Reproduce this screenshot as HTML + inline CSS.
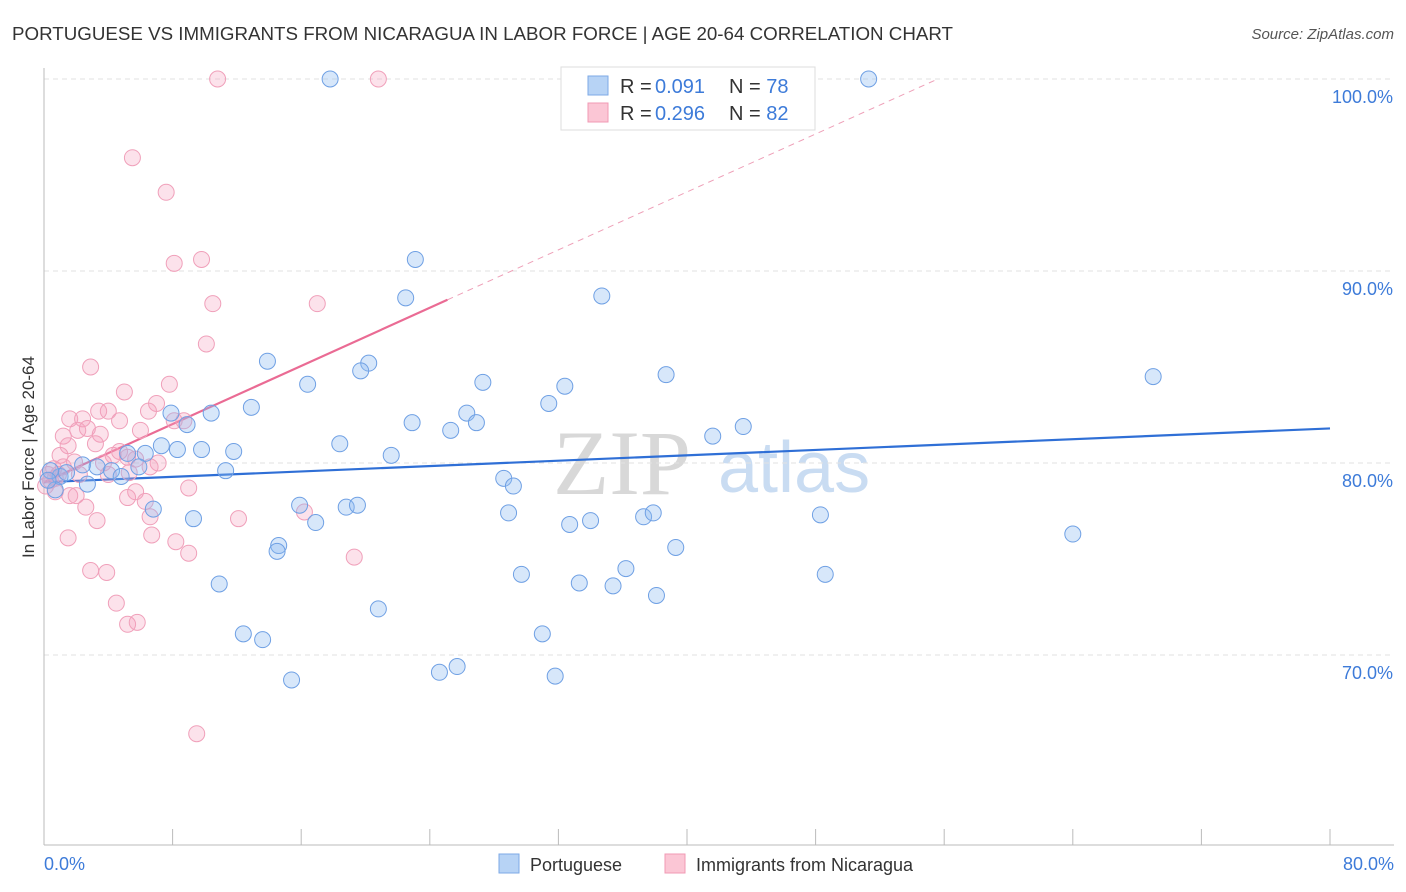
<!DOCTYPE html>
<html><head><meta charset="utf-8"><style>
body{margin:0;background:#fff;font-family:"Liberation Sans",sans-serif;}
svg{display:block}
</style></head><body>
<svg id="chart" width="1406" height="892">
<text x="12" y="40" font-size="18" fill="#333" textLength="941" lengthAdjust="spacingAndGlyphs">PORTUGUESE VS IMMIGRANTS FROM NICARAGUA IN LABOR FORCE | AGE 20-64 CORRELATION CHART</text>
<text x="1394" y="39" font-size="15" fill="#555" font-style="italic" text-anchor="end">Source: ZipAtlas.com</text>
<g>
<text x="553" y="494" font-size="92" fill="#d8d8d8" font-family="Liberation Serif,serif">ZIP</text>
<text x="718" y="492" font-size="72" fill="#c9dcf2">atlas</text>
</g>
<g id="grid"></g>
<g id="axes"></g>
<g id="trends"></g>
<g id="points"></g>
<text transform="translate(34,457) rotate(-90)" font-size="17" fill="#333" text-anchor="middle">In Labor Force | Age 20-64</text>
<text x="44" y="870" font-size="18" fill="#3d7bd9">0.0%</text>
<text x="1394" y="870" font-size="18" fill="#3d7bd9" text-anchor="end">80.0%</text>
<g>
<rect x="561" y="67" width="254" height="63" fill="#fff" stroke="#ddd"/>
<rect x="588" y="76" width="20" height="19" fill="#b7d3f5" stroke="#7eaae6"/>
<rect x="588" y="103" width="20" height="19" fill="#fbc6d5" stroke="#f09ab4"/>
<text x="620" y="93" font-size="20" fill="#333">R = <tspan x="655" fill="#3d7bd9">0.091</tspan></text>
<text x="729" y="93" font-size="20" fill="#333">N = <tspan fill="#3d7bd9">78</tspan></text>
<text x="620" y="120" font-size="20" fill="#333">R = <tspan x="655" fill="#3d7bd9">0.296</tspan></text>
<text x="729" y="120" font-size="20" fill="#333">N = <tspan fill="#3d7bd9">82</tspan></text>
</g>
<g>
<rect x="499" y="854" width="20" height="19" fill="#b7d3f5" stroke="#7eaae6"/>
<text x="530" y="871" font-size="18" fill="#333">Portuguese</text>
<rect x="665" y="854" width="20" height="19" fill="#fbc6d5" stroke="#f09ab4"/>
<text x="696" y="871" font-size="18" fill="#333">Immigrants from Nicaragua</text>
</g>
</svg>
<script>
const yTicks=[100,90,80,70];
const yTickLabels=["100.0%","90.0%","80.0%","70.0%"];
const xTicks=[0,8,16,24,32,40,48,56,64,72,80];
const blueX=[17.8,51.3,23.1,22.5,34.7,13.9,20.2,19.7,16.4,27.3,32.4,38.7,69.0,12.9,10.4,7.9,26.3,31.4,22.9,26.9,25.3,41.6,43.5,8.9,18.4,7.3,8.3,9.8,11.8,21.6,6.3,5.2,2.4,3.3,4.2,4.8,5.9,11.3,28.6,29.2,2.7,1.0,1.4,0.4,0.7,0.25,15.9,18.8,19.5,16.9,28.9,6.8,9.3,32.7,34.0,37.3,37.9,48.3,14.6,14.5,39.3,64.0,10.9,20.8,29.7,33.3,35.4,36.2,38.1,48.6,12.4,13.6,31.0,15.4,24.6,25.7,31.8];
const blueY=[100,100,90.6,88.6,88.7,85.3,85.2,84.8,84.1,84.2,84.0,84.6,84.5,82.9,82.6,82.6,82.6,83.1,82.1,82.1,81.7,81.4,81.9,82.0,81.0,80.9,80.7,80.7,80.6,80.4,80.5,80.5,79.9,79.8,79.6,79.3,79.8,79.6,79.2,78.8,78.9,79.3,79.5,79.6,78.6,79.1,77.8,77.7,77.8,76.9,77.4,77.6,77.1,76.8,77.0,77.2,77.4,77.3,75.7,75.4,75.6,76.3,73.7,72.4,74.2,73.75,73.6,74.5,73.1,74.2,71.1,70.8,71.1,68.7,69.1,69.4,68.9];
const pinkX=[10.8,20.8,5.5,7.6,8.1,9.8,10.5,17.0,10.1,2.9,7.8,5.0,4.0,3.4,7.0,6.5,1.6,2.4,4.7,2.1,2.7,3.5,1.2,6.0,3.2,1.5,4.3,4.7,5.2,3.7,1.9,1.0,1.2,5.7,7.1,6.6,0.6,0.9,2.2,4.0,5.3,0.4,0.1,0.7,1.6,2.0,9.0,5.7,5.2,6.3,6.6,3.3,6.7,2.6,1.5,8.2,9.0,12.1,16.2,19.3,2.9,3.9,4.5,5.2,5.8,9.5,8.1,8.7,0.7,0.25];
const pinkY=[100,100,95.9,94.1,90.4,90.6,88.3,88.3,86.2,85.0,84.1,83.7,82.7,82.7,83.1,82.7,82.3,82.3,82.2,81.7,81.8,81.5,81.4,81.7,81.0,80.9,80.4,80.6,80.3,80.0,80.05,80.4,79.8,80.2,80.0,79.8,79.7,79.4,79.4,79.4,79.5,79.1,78.8,78.5,78.3,78.3,78.7,78.5,78.2,78.0,77.2,77.0,76.25,77.7,76.1,75.9,75.3,77.1,77.45,75.1,74.4,74.3,72.7,71.6,71.7,65.9,82.2,82.2,79.2,79.4];
const blueTrendX=[0,80];
const blueTrendY=[79.0,81.8];
const pinkTrendX=[0,25.1,55.6];
const pinkTrendY=[79.0,88.5,100];

const NS="http://www.w3.org/2000/svg";
const sx=v=>44+v*16.075;
const sy=v=>79+(100-v)*19.2;
function mk(tag,attrs,parent){const e=document.createElementNS(NS,tag);for(const k in attrs)e.setAttribute(k,attrs[k]);parent.appendChild(e);return e;}
const grid=document.getElementById('grid'),axes=document.getElementById('axes'),trends=document.getElementById('trends'),pts=document.getElementById('points');
yTicks.forEach((t,i)=>{
 const l=mk('line',{x1:44,x2:1394,y1:sy(t),y2:sy(t),stroke:'#e2e2e2','stroke-dasharray':'5,4'},grid);
 
 
 const tx=mk('text',{x:1393,y:sy(t)+24,'font-size':18,fill:'#3d7bd9','text-anchor':'end'},grid);
 tx.textContent=yTickLabels[i];
 
 
});
const ax=mk('line',{x1:44,x2:44,y1:68,y2:845,stroke:'#bbb'},axes);


const bx=mk('line',{x1:44,x2:1394,y1:845,y2:845,stroke:'#bbb'},axes);


xTicks.forEach(v=>{const t=mk('line',{x1:sx(v),x2:sx(v),y1:829,y2:845,stroke:'#bbb'},axes);
 
 });
function pathFrom(xs,ys){return xs.map((x,i)=>(i?'L':'M')+sx(x)+','+sy(ys[i])).join('');}
const bt=mk('path',{d:pathFrom(blueTrendX,blueTrendY),stroke:'#2f6fd6','stroke-width':2.2,fill:'none'},trends);


const pt=mk('path',{d:pathFrom(pinkTrendX.slice(0,2),pinkTrendY.slice(0,2)),stroke:'#ea6b94','stroke-width':2.2,fill:'none'},trends);


const pd=mk('path',{d:pathFrom(pinkTrendX.slice(1),pinkTrendY.slice(1)),stroke:'#eea0b8','stroke-width':1,fill:'none','stroke-dasharray':'6,5'},trends);


pinkX.forEach((x,i)=>{const c=mk('circle',{cx:sx(x),cy:sy(pinkY[i]),r:8,fill:'rgba(246,160,188,0.3)',stroke:'#f0a0ba','stroke-width':1},pts);
 
 });
blueX.forEach((x,i)=>{const c=mk('circle',{cx:sx(x),cy:sy(blueY[i]),r:8,fill:'rgba(140,185,240,0.35)',stroke:'#6fa0e4','stroke-width':1},pts);
 
 });
</script>
</body></html>
